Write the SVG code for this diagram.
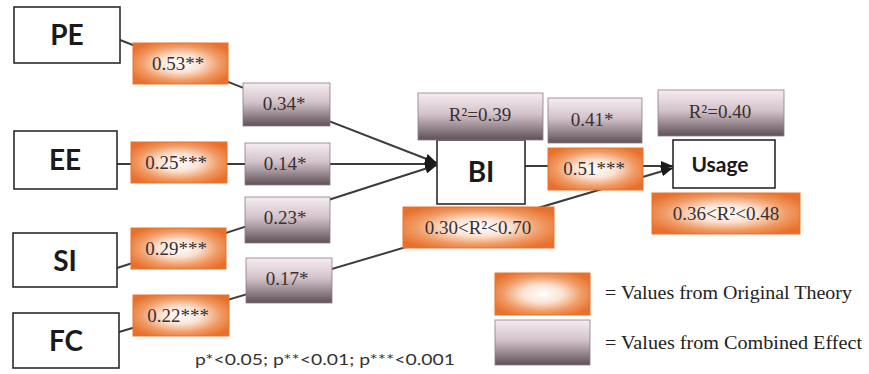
<svg xmlns="http://www.w3.org/2000/svg" width="869" height="374" viewBox="0 0 869 374">
<style>
.node{fill:#fff;stroke:#2b2b2b;stroke-width:1.6}
.or{fill:url(#og);stroke:#e8732f;stroke-width:1}
.gr{fill:url(#gg);stroke:#8a7d84;stroke-width:0.8}
.lbl{font-family:Lato,"Liberation Sans",sans-serif;font-weight:bold;fill:#1a1a1a;text-anchor:middle}
.val{font-family:"Liberation Serif",serif;font-size:19px;fill:#3a3030;text-anchor:middle}
.leg{font-family:"Liberation Serif",serif;font-size:18px;fill:#222}
.conn{stroke:#3c3c3c;stroke-width:2;fill:none}
</style>
<defs>
<radialGradient id="og" cx="0.5" cy="0.5" r="0.6">
<stop offset="0" stop-color="#ffffff"/>
<stop offset="0.35" stop-color="#fbe3d4"/>
<stop offset="0.7" stop-color="#f09a63"/>
<stop offset="1" stop-color="#e8702c"/>
</radialGradient>
<linearGradient id="gg" x1="0" y1="0" x2="0" y2="1">
<stop offset="0" stop-color="#f6ecf1"/>
<stop offset="0.45" stop-color="#d3c2ca"/>
<stop offset="1" stop-color="#5f5058"/>
</linearGradient>
<marker id="ah" markerUnits="userSpaceOnUse" markerWidth="12" markerHeight="10" refX="12" refY="5" orient="auto">
<path d="M0,0 L12,5 L0,10 z" fill="#1a1a1a"/>
</marker>
</defs>
<g id="connectors">
<line class="conn" x1="120" y1="40" x2="437" y2="163" marker-end="url(#ah)"/>
<line class="conn" x1="117" y1="164" x2="437" y2="164" marker-end="url(#ah)"/>
<line class="conn" x1="117" y1="268" x2="437" y2="165" marker-end="url(#ah)"/>
<line class="conn" x1="119" y1="332" x2="673" y2="168" marker-end="url(#ah)"/>
<line class="conn" x1="525" y1="166" x2="673" y2="166" marker-end="url(#ah)"/>
</g>
<g id="PE"><rect class="node" x="14" y="7" width="106" height="56"/><text class="lbl" x="67" y="45" font-size="28">PE</text></g>
<g id="EE"><rect class="node" x="14" y="131" width="103" height="58"/><text class="lbl" x="65" y="170" font-size="28">EE</text></g>
<g id="SI"><rect class="node" x="13" y="233" width="104" height="54"/><text class="lbl" x="65" y="271" font-size="28">SI</text></g>
<g id="FC"><rect class="node" x="13" y="313" width="106" height="55"/><text class="lbl" x="66" y="351" font-size="28">FC</text></g>
<g id="BI"><rect class="node" x="437" y="140" width="88" height="64"/><text class="lbl" x="481" y="182" font-size="28">BI</text></g>
<g id="Usage"><rect class="node" x="673" y="140" width="102" height="48"/><text class="lbl" x="720" y="172" font-size="21">Usage</text></g>
<g id="v053"><rect class="or" x="133" y="43" width="95" height="41"/><text class="val" x="178" y="70">0.53**</text></g>
<g id="v025"><rect class="or" x="131" y="142" width="96" height="41"/><text class="val" x="176" y="169">0.25***</text></g>
<g id="v029"><rect class="or" x="131" y="228" width="95" height="41"/><text class="val" x="176" y="255">0.29***</text></g>
<g id="v022"><rect class="or" x="133" y="295" width="96" height="41"/><text class="val" x="178" y="322">0.22***</text></g>
<g id="v034"><rect class="gr" x="243" y="83" width="87" height="43"/><text class="val" x="284" y="110">0.34*</text></g>
<g id="v014"><rect class="gr" x="245" y="143" width="85" height="42"/><text class="val" x="285" y="170">0.14*</text></g>
<g id="v023"><rect class="gr" x="245" y="197" width="85" height="46"/><text class="val" x="285" y="224">0.23*</text></g>
<g id="v017"><rect class="gr" x="246" y="258" width="86" height="45"/><text class="val" x="287" y="285">0.17*</text></g>
<g id="r039"><rect class="gr" x="418" y="93" width="125" height="47"/><text class="val" x="480" y="121">R²=0.39</text></g>
<g id="r030"><rect class="or" x="403" y="207" width="151" height="41"/><text class="val" x="478" y="234">0.30&lt;R²&lt;0.70</text></g>
<g id="v041"><rect class="gr" x="548" y="98" width="94" height="45"/><text class="val" x="592" y="126">0.41*</text></g>
<g id="v051"><rect class="or" x="548" y="148" width="95" height="42"/><text class="val" x="594" y="175">0.51***</text></g>
<g id="r040"><rect class="gr" x="658" y="90" width="126" height="46"/><text class="val" x="720" y="118">R²=0.40</text></g>
<g id="r036"><rect class="or" x="652" y="193" width="148" height="41"/><text class="val" x="726" y="220">0.36&lt;R²&lt;0.48</text></g>
<g id="legend">
<rect class="or" x="495" y="273" width="95" height="42"/>
<rect class="gr" x="495" y="320" width="95" height="45"/>
<text class="leg" x="605" y="299" textLength="247" lengthAdjust="spacingAndGlyphs">= Values from Original Theory</text>
<text class="leg" x="605" y="349" textLength="257" lengthAdjust="spacingAndGlyphs">= Values from Combined Effect</text>
</g>
<text x="195" y="365" font-family="Lato,'Liberation Sans',sans-serif" font-size="15" fill="#333" textLength="260" lengthAdjust="spacingAndGlyphs">p*&lt;0.05; p**&lt;0.01; p***&lt;0.001</text>
</svg>
